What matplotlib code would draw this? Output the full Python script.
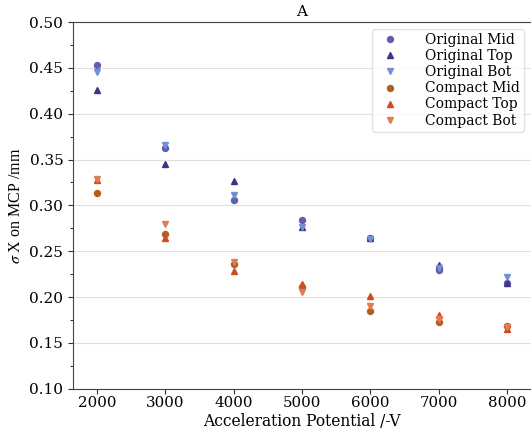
import matplotlib
matplotlib.use('Agg')
import matplotlib.pyplot as plt
from matplotlib.ticker import MultipleLocator

voltages = [2000, 3000, 4000, 5000, 6000, 7000, 8000]

orig_mid = [0.453, 0.363, 0.306, 0.284, 0.264, 0.230, 0.215]
orig_top = [0.426, 0.345, 0.327, 0.277, 0.264, 0.235, 0.215]
orig_bot = [0.446, 0.366, 0.311, 0.277, 0.263, 0.232, 0.222]
comp_mid = [0.314, 0.269, 0.236, 0.211, 0.185, 0.173, 0.168]
comp_top = [0.328, 0.265, 0.229, 0.214, 0.201, 0.180, 0.165]
comp_bot = [0.329, 0.280, 0.238, 0.206, 0.190, 0.176, 0.167]

series = [
    ('Original Mid', orig_mid, 'o', '#5f5fae'),
    ('Original Top', orig_top, '^', '#3c3585'),
    ('Original Bot', orig_bot, 'v', '#7390d5'),
    ('Compact Mid', comp_mid, 'o', '#b45f1e'),
    ('Compact Top', comp_top, '^', '#d24b1e'),
    ('Compact Bot', comp_bot, 'v', '#e07d55'),
]

plt.rcParams['font.family'] = 'DejaVu Serif'
plt.rcParams['mathtext.fontset'] = 'stix'

fig = plt.figure(figsize=(5.31, 4.32), dpi=100)
ax = fig.add_axes([0.1375, 0.1, 0.8625, 0.849])

for label, vals, marker, color in series:
    ax.plot(voltages, vals, linestyle='none', marker=marker, color=color,
            markersize=4.3, label=label, zorder=3)

ax.set_xlim(1650, 8350)
ax.set_ylim(0.10, 0.50)
ax.set_xticks(voltages)
ax.yaxis.set_major_locator(MultipleLocator(0.05))
ax.yaxis.set_minor_locator(MultipleLocator(0.025))
ax.yaxis.set_major_formatter(matplotlib.ticker.FormatStrFormatter('%.2f'))
ax.tick_params(axis='both', labelsize=11, color='#333333')
ax.tick_params(axis='x', pad=1.5, labelsize=10.8)
ax.tick_params(axis='y', which='minor', length=2)
ax.grid(axis='y', color='#e0e0e0', linewidth=0.8, zorder=0)

for side in ['left', 'bottom', 'top']:
    ax.spines[side].set_color('#444444')
ax.spines['right'].set_visible(False)

ax.set_title('A', fontsize=11, pad=4)
ax.set_xlabel('Acceleration Potential /-V', fontsize=11.2, va='bottom')
ax.xaxis.set_label_coords(0.5, -0.112)
ax.set_ylabel(r'$\sigma$ X on MCP /mm', fontsize=11.5, family='Liberation Serif')

leg = ax.legend(loc='upper right', fontsize=10, handletextpad=1.5,
                labelspacing=0.15, borderpad=0.3, frameon=True)
leg.get_frame().set_edgecolor('#dddddd')

plt.savefig('out.png', dpi=100)
